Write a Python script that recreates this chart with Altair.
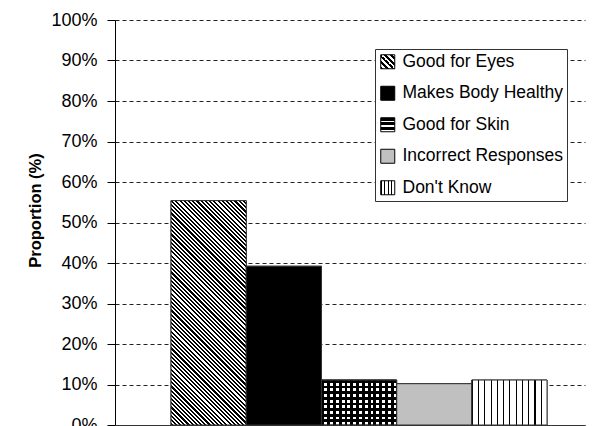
import math
import altair as alt
import pandas as pd

# ---------------- data ----------------
categories = ["Good for Eyes", "Makes Body Healthy", "Good for Skin",
              "Incorrect Responses", "Don't Know"]
proportions = [0.554, 0.392, 0.111, 0.102, 0.111]
y_ticks = [0.0, 0.1, 0.2, 0.3, 0.4, 0.5, 0.6, 0.7, 0.8, 0.9, 1.0]

df = pd.DataFrame({"category": categories, "proportion": proportions})

# ---------------- style ----------------
PLOT_W, PLOT_H = 470, 405
FONT = "Liberation Sans Narrow, Arial Narrow, Liberation Sans, Arial, sans-serif"
PAD_OUTER = 0.625
STEP = PLOT_W / (len(categories) + 2 * PAD_OUTER)


def stripe_stops(n, dark_frac, dark, light):
    stops = []
    for i in range(n):
        a, m, b = i / n, (i + dark_frac) / n, (i + 1) / n
        stops += [(a, dark), (m, dark), (m, light), (b, light)]
    return stops


def grad_expr(x1, y1, x2, y2, stops):
    s = ",".join("{offset:%.5f,color:'%s'}" % (o, c) for o, c in stops)
    return {"expr": "{gradient:'linear',x1:%.5f,y1:%.5f,x2:%.5f,y2:%.5f,stops:[%s]}"
            % (x1, y1, x2, y2, s)}


def grad_obj(x1, y1, x2, y2, stops):
    return {"gradient": "linear", "x1": x1, "y1": y1, "x2": x2, "y2": y2,
            "stops": [{"offset": round(o, 5), "color": c} for o, c in stops]}


def diag_geom(w, h):
    # gradient vector (in bounding-box units) giving 45 degree "\" stripes
    k = h / w
    a = (1 + k) / (1 + k * k)
    b = k * a
    return 0.0, 1.0, a, 1.0 - b


# bar fills
eyes_h = proportions[0] * PLOT_H
gx1, gy1, gx2, gy2 = diag_geom(STEP, eyes_h)
eyes_n = max(1, round((STEP + eyes_h) / math.sqrt(2) / 3.0))
skin_h = proportions[2] * PLOT_H
bar_range = [
    grad_expr(gx1, gy1, gx2, gy2, stripe_stops(eyes_n, 0.5, "#000000", "#ffffff")),
    "#000000",
    grad_expr(0, 0, 0, 1, stripe_stops(max(1, round(skin_h / 5.6)), 0.5, "#000000", "#ffffff")),
    "#c0c0c0",
    grad_expr(0, 0, 1, 0, stripe_stops(12, 0.17, "#000000", "#ffffff")),
]
skin_overlay = grad_obj(0, 0, 1, 0, stripe_stops(round(STEP / 5.7), 0.5, "#000000", "rgba(0,0,0,0)"))

# legend symbol fills
legend_range = [
    grad_expr(0, 1, 1, 0, stripe_stops(5, 0.5, "#000000", "#ffffff")),
    "#000000",
    grad_expr(0, 0, 0, 1, stripe_stops(3, 0.6, "#000000", "#ffffff")),
    "#c0c0c0",
    grad_expr(0, 0, 1, 0, stripe_stops(4, 0.25, "#000000", "#ffffff")),
]

x_enc = alt.X("category:N", sort=categories, title=None,
              scale=alt.Scale(paddingInner=0, paddingOuter=PAD_OUTER, align=0.596),
              axis=alt.Axis(labels=False, ticks=False, grid=False, domainColor="#333333",
                            domainWidth=1, zindex=1))
y_enc = alt.Y("proportion:Q",
              scale=alt.Scale(domain=[0, 1], nice=False),
              axis=alt.Axis(values=y_ticks, format=".0%", title="Proportion (%)",
                            tickSize=8, tickColor="#000000", domainColor="#000000",
                            labelPadding=10, labelFontSize=18, labelColor="#000000",
                            labelFont=FONT, titleFont=FONT, titleFontSize=16.5,
                            titleFontWeight="bold", titleColor="#000000", titlePadding=7,
                            titleY=190,
                            gridDash=[4, 3], gridColor="#222222", gridWidth=1,
                            labelOverlap=False))

base = alt.Chart(df)

legend_layer = base.mark_bar(stroke="#333333", strokeWidth=1).encode(
    x=x_enc, y=y_enc,
    fill=alt.Fill("category:N", sort=categories,
                  scale=alt.Scale(domain=categories, range=legend_range),
                  legend=alt.Legend(title=None, orient="none", legendX=260, legendY=29,
                                    padding=4, strokeColor="#333333", fillColor="#ffffff",
                                    symbolType="square", symbolSize=196,
                                    symbolStrokeColor="#000000", symbolStrokeWidth=1,
                                    labelFont=FONT, labelFontSize=17.5, labelColor="#000000",
                                    labelLimit=0, labelOffset=6, rowPadding=12.5)),
)

bar_layer = base.mark_bar(stroke="#333333", strokeWidth=1).encode(
    x=x_enc, y=y_enc,
    fill=alt.Fill("category:N", sort=categories,
                  scale=alt.Scale(domain=categories, range=bar_range),
                  legend=None),
)

skin_layer = base.transform_filter(
    alt.datum.category == "Good for Skin"
).mark_bar(fill=skin_overlay, stroke="#333333", strokeWidth=1).encode(x=x_enc, y=y_enc)

chart = alt.layer(legend_layer, bar_layer, skin_layer).resolve_scale(
    fill="independent"
).properties(
    width=PLOT_W, height=PLOT_H,
    autosize=alt.AutoSizeParams(type="none"),
    padding={"left": 115, "top": 20, "right": 8, "bottom": 10},
).configure_view(strokeWidth=0)

chart.save("out.html", embed_options={"renderer": "svg", "actions": False})
